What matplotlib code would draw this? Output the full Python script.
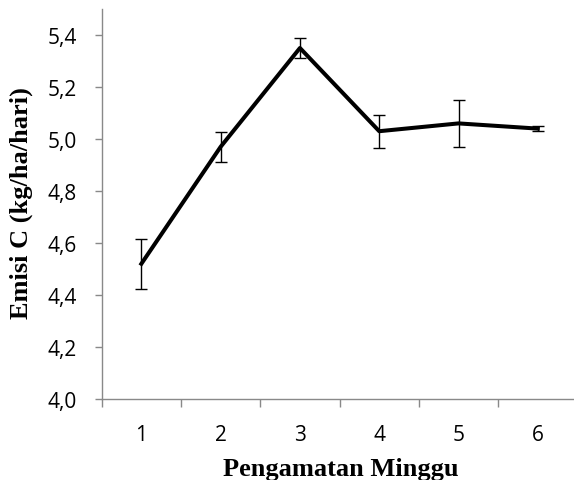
import matplotlib
matplotlib.use("Agg")
import matplotlib.pyplot as plt
import numpy as np

# -------------------------
# DATA
# -------------------------
minggu = ["1", "2", "3", "4", "5", "6"]
emisi = [4.52, 4.97, 5.35, 5.03, 5.06, 5.04]
galat = [0.096, 0.058, 0.040, 0.063, 0.089, 0.010]
y_ticks = [4.0, 4.2, 4.4, 4.6, 4.8, 5.0, 5.2, 5.4]

GRAY = "#898989"

fig = plt.figure(figsize=(5.74, 4.81), dpi=100)
ax = fig.add_axes([0.1772, 0.1684, 0.8288, 0.8108])

x = np.arange(1, len(minggu) + 1)
ax.errorbar(x, emisi, yerr=galat, color="black", lw=2.9,
            ecolor="black", elinewidth=1.0, capsize=4.3, capthick=1.0)

ax.set_xlim(0.5, len(minggu) + 0.5)
ax.set_ylim(4.0, 5.5)
ax.set_yticks(y_ticks)
ax.set_yticklabels([f"{v:.1f}".replace(".", ",") for v in y_ticks])
ax.set_xticks(x)
ax.set_xticklabels(minggu)
ax.set_xticks(np.arange(0.5, len(minggu) + 0.6, 1.0), minor=True)

for side in ["top", "right"]:
    ax.spines[side].set_visible(False)
for side in ["left", "bottom"]:
    ax.spines[side].set_color(GRAY)
    ax.spines[side].set_linewidth(1.0)

for lab in ax.get_xticklabels() + ax.get_yticklabels():
    lab.set_fontfamily("Open Sans")
    lab.set_fontsize(15)

ax.tick_params(axis="y", which="major", direction="out", length=5, width=1.0,
               color=GRAY, pad=13, labelcolor="black")
ax.tick_params(axis="x", which="major", length=0, pad=18, labelcolor="black")
ax.tick_params(axis="x", which="minor", direction="out", length=5.5, width=1.0,
               color=GRAY)

fig.text(21 / 574, 1 - 203 / 481, "Emisi C (kg/ha/hari)", rotation=90,
         ha="center", va="center", family="Liberation Serif",
         weight="bold", size=19)
fig.text(341 / 574, 1 - 476 / 481, "Pengamatan Minggu", ha="center",
         va="baseline", family="Liberation Serif", weight="bold", size=19)

fig.savefig("out.png", dpi=100)
